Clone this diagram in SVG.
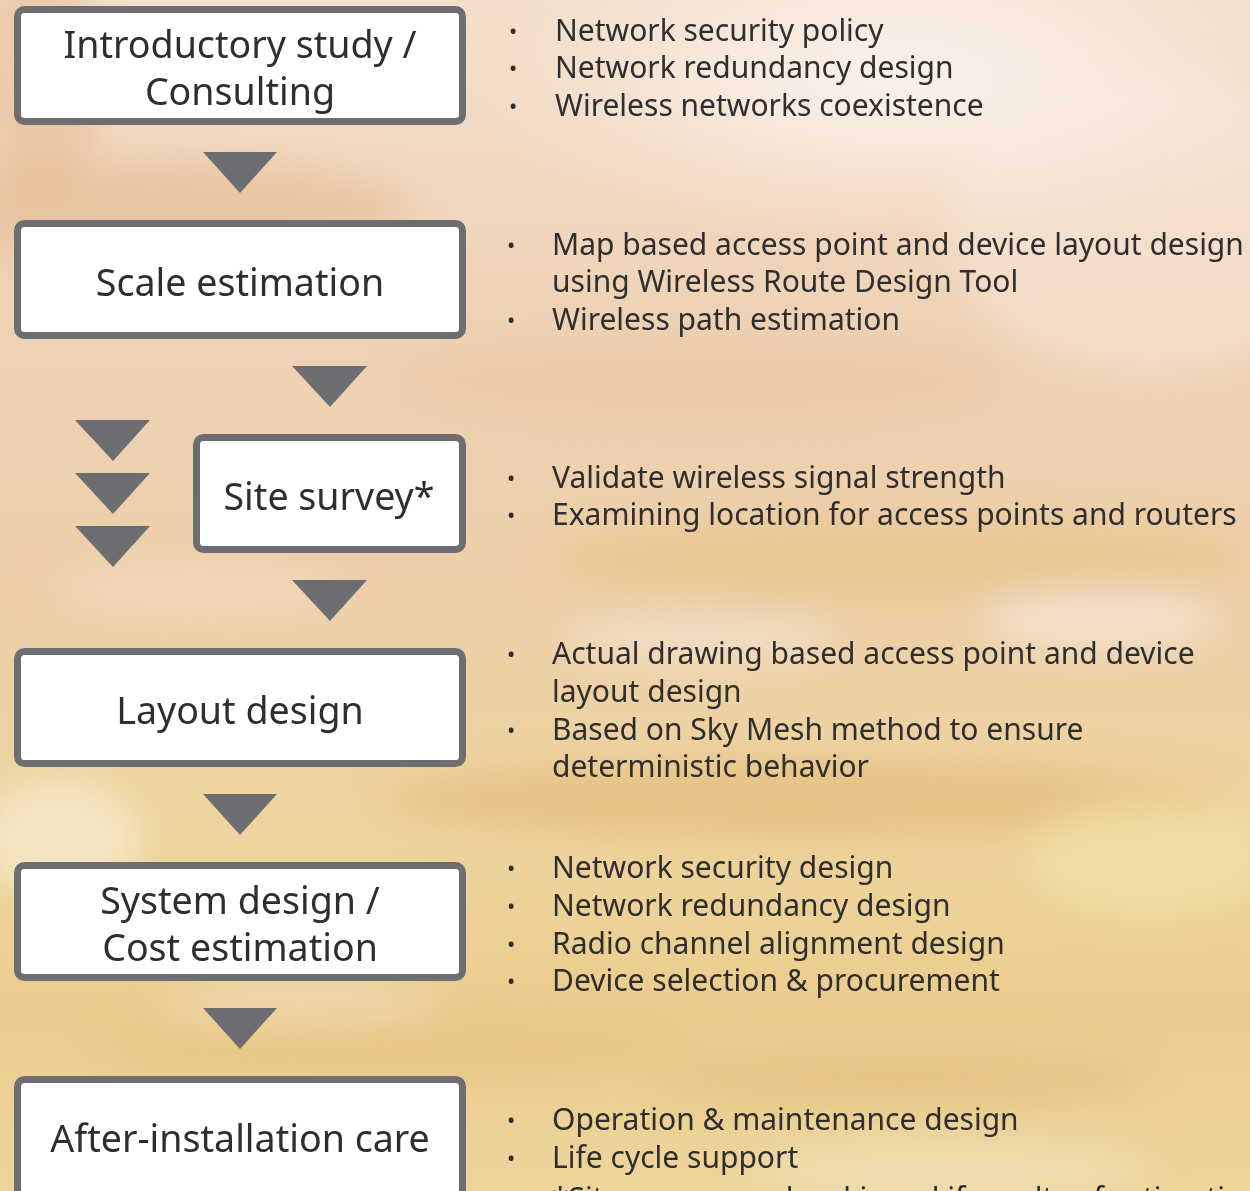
<svg xmlns="http://www.w3.org/2000/svg" width="1250" height="1191" viewBox="0 0 1250 1191">
<defs>
<linearGradient id="bg" x1="0" y1="0" x2="0" y2="1">
<stop offset="0" stop-color="#f3dfcb"/>
<stop offset="0.25" stop-color="#efd3b7"/>
<stop offset="0.5" stop-color="#edcfa8"/>
<stop offset="0.7" stop-color="#eed59f"/>
<stop offset="0.85" stop-color="#ebcc8c"/>
<stop offset="1" stop-color="#eed59c"/>
</linearGradient>
<radialGradient id="glow" cx="0.5" cy="0.5" r="0.5">
<stop offset="0" stop-color="#fbf3ee" stop-opacity="0.95"/>
<stop offset="1" stop-color="#fbf3ee" stop-opacity="0"/>
</radialGradient>
<filter id="blur" x="-50%" y="-50%" width="200%" height="200%"><feGaussianBlur stdDeviation="18"/></filter>
<style>
.box{fill:#ffffff;stroke:#6d6e71;stroke-width:7}
.tri{fill:#6d6e71}
.bt{font-family:"Noto Sans","Open Sans","Liberation Sans",sans-serif;font-size:37.6px;fill:#2e2e2e;text-anchor:middle}
.rt{font-family:"Noto Sans","Open Sans","Liberation Sans",sans-serif;font-size:30px;fill:#2e2e2e}
.bul{font-family:"Noto Sans","Liberation Sans",sans-serif;font-size:22px;fill:#2e2e2e}
</style>
</defs>
<g id="background">
<rect width="1250" height="1191" fill="url(#bg)"/>
<g filter="url(#blur)">
<ellipse cx="900" cy="80" rx="420" ry="160" fill="url(#glow)"/>
<ellipse cx="1150" cy="220" rx="200" ry="150" fill="#f8ece2" opacity="0.45"/>
<ellipse cx="150" cy="210" rx="260" ry="50" fill="#e6b98e" opacity="0.6"/>
<ellipse cx="40" cy="80" rx="60" ry="120" fill="#e8bd93" opacity="0.6"/>
<ellipse cx="700" cy="380" rx="300" ry="40" fill="#e9c49c" opacity="0.6"/>
<ellipse cx="900" cy="560" rx="350" ry="40" fill="#e5c07e" opacity="0.5"/>
<ellipse cx="1100" cy="620" rx="120" ry="30" fill="#f6ebe1" opacity="0.6"/>
<ellipse cx="700" cy="640" rx="140" ry="25" fill="#f6ebe1" opacity="0.5"/>
<ellipse cx="200" cy="590" rx="150" ry="30" fill="#f3dcc0" opacity="0.6"/>
<ellipse cx="800" cy="800" rx="420" ry="40" fill="#e3b56e" opacity="0.55"/>
<ellipse cx="1150" cy="860" rx="120" ry="60" fill="#f2e4a8" opacity="0.6"/>
<ellipse cx="60" cy="840" rx="80" ry="60" fill="#f6ecd2" opacity="0.7"/>
<ellipse cx="400" cy="1050" rx="300" ry="30" fill="#e7c27e" opacity="0.6"/>
<ellipse cx="900" cy="1080" rx="250" ry="25" fill="#e4b978" opacity="0.5"/>
<ellipse cx="950" cy="1170" rx="200" ry="30" fill="#f0e2c0" opacity="0.6"/>
<ellipse cx="300" cy="1000" rx="140" ry="25" fill="#f3e1cc" opacity="0.5"/>
</g>
</g>
<g id="connectors">
<polygon class="tri" points="203,152 277,152 240,193"/>
<polygon class="tri" points="292,366 367,366 330,407"/>
<polygon class="tri" points="75,420 150,420 113,461"/>
<polygon class="tri" points="75,473 150,473 113,514"/>
<polygon class="tri" points="75,526 150,526 113,567"/>
<polygon class="tri" points="292,580 367,580 330,621"/>
<polygon class="tri" points="203,794 277,794 240,835"/>
<polygon class="tri" points="203,1008 277,1008 240,1049"/>
</g>
<g id="node-intro">
<rect class="box" x="17.5" y="9.5" width="445" height="112" rx="7"/>
<text class="bt" x="240" y="58">Introductory study /</text>
<text class="bt" x="240" y="105">Consulting</text>
</g>
<g id="node-scale">
<rect class="box" x="17.5" y="223.5" width="445" height="112" rx="7"/>
<text class="bt" x="240" y="296">Scale estimation</text>
</g>
<g id="node-survey">
<rect class="box" x="196.5" y="437.5" width="266" height="112" rx="7"/>
<text class="bt" x="329" y="510">Site survey*</text>
</g>
<g id="node-layout">
<rect class="box" x="17.5" y="651.5" width="445" height="112" rx="7"/>
<text class="bt" x="240" y="724">Layout design</text>
</g>
<g id="node-system">
<rect class="box" x="17.5" y="865.5" width="445" height="112" rx="7"/>
<text class="bt" x="240" y="914">System design /</text>
<text class="bt" x="240" y="961">Cost estimation</text>
</g>
<g id="node-after">
<rect class="box" x="17.5" y="1079.5" width="445" height="130" rx="7"/>
<text class="bt" x="240" y="1152">After-installation care</text>
</g>
<g id="notes">
<text class="bul" x="509" y="39">•</text><text class="rt" x="555" y="41">Network security policy</text>
<text class="bul" x="509" y="76">•</text><text class="rt" x="555" y="78">Network redundancy design</text>
<text class="bul" x="509" y="114">•</text><text class="rt" x="555" y="116">Wireless networks coexistence</text>

<text class="bul" x="507" y="253">•</text><text class="rt" x="552" y="255">Map based access point and device layout design</text>
<text class="rt" x="552" y="292">using Wireless Route Design Tool</text>
<text class="bul" x="507" y="328">•</text><text class="rt" x="552" y="330">Wireless path estimation</text>

<text class="bul" x="507" y="486">•</text><text class="rt" x="552" y="488">Validate wireless signal strength</text>
<text class="bul" x="507" y="523">•</text><text class="rt" x="552" y="525">Examining location for access points and routers</text>

<text class="bul" x="507" y="662">•</text><text class="rt" x="552" y="664">Actual drawing based access point and device</text>
<text class="rt" x="552" y="702">layout design</text>
<text class="bul" x="507" y="738">•</text><text class="rt" x="552" y="740">Based on Sky Mesh method to ensure</text>
<text class="rt" x="552" y="777">deterministic behavior</text>

<text class="bul" x="507" y="876">•</text><text class="rt" x="552" y="878">Network security design</text>
<text class="bul" x="507" y="914">•</text><text class="rt" x="552" y="916">Network redundancy design</text>
<text class="bul" x="507" y="952">•</text><text class="rt" x="552" y="954">Radio channel alignment design</text>
<text class="bul" x="507" y="989">•</text><text class="rt" x="552" y="991">Device selection &amp; procurement</text>

<text class="bul" x="507" y="1128">•</text><text class="rt" x="552" y="1130">Operation &amp; maintenance design</text>
<text class="bul" x="507" y="1166">•</text><text class="rt" x="552" y="1168">Life cycle support</text>
<text class="rt" x="552" y="1209">*Site survey can be skipped if results of estimation tool</text>
</g>
</svg>
